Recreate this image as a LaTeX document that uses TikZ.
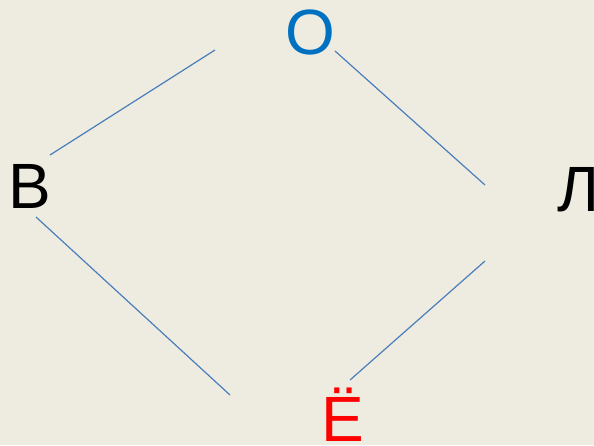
\documentclass[tikz,border=0pt]{standalone}
\usepackage{fontspec}
\setmainfont{Liberation Sans}
\usetikzlibrary{positioning}
\definecolor{bgtan}{HTML}{EEECE1}
\definecolor{letterblue}{HTML}{0070C0}
\definecolor{linkblue}{HTML}{4A7EBB}

\begin{document}
\begin{tikzpicture}[
  x=1pt, y=-1pt,
  letter/.style={inner sep=0pt, anchor=base, font=\fontsize{64}{70}\selectfont},
  link/.style={draw=linkblue, line width=1.2pt}
]
\fill[bgtan] (0,0) rectangle (594,445);
\useasboundingbox (0,0) rectangle (594,445);
\node[letter, text=letterblue] (o) at (310,54) {О};
\node[letter, anchor=base west] (v) at (8,208) {В};
\node[letter, anchor=base west] (l) at (557,211) {Л};
\node[letter, text=red] (yo) at (343,441) {Ё};
% free ends of the links
\coordinate (o-left) at (215,50);
\coordinate (v-up) at (50,155);
\coordinate (o-right) at (335,51);
\coordinate (l-up) at (485,185);
\coordinate (v-down) at (36,217);
\coordinate (yo-left) at (230,395);
\coordinate (l-down) at (485,261);
\coordinate (yo-right) at (350,380);
\draw[link] (o-left) -- (v-up);
\draw[link] (o-right) -- (l-up);
\draw[link] (v-down) -- (yo-left);
\draw[link] (l-down) -- (yo-right);
\end{tikzpicture}
\end{document}
